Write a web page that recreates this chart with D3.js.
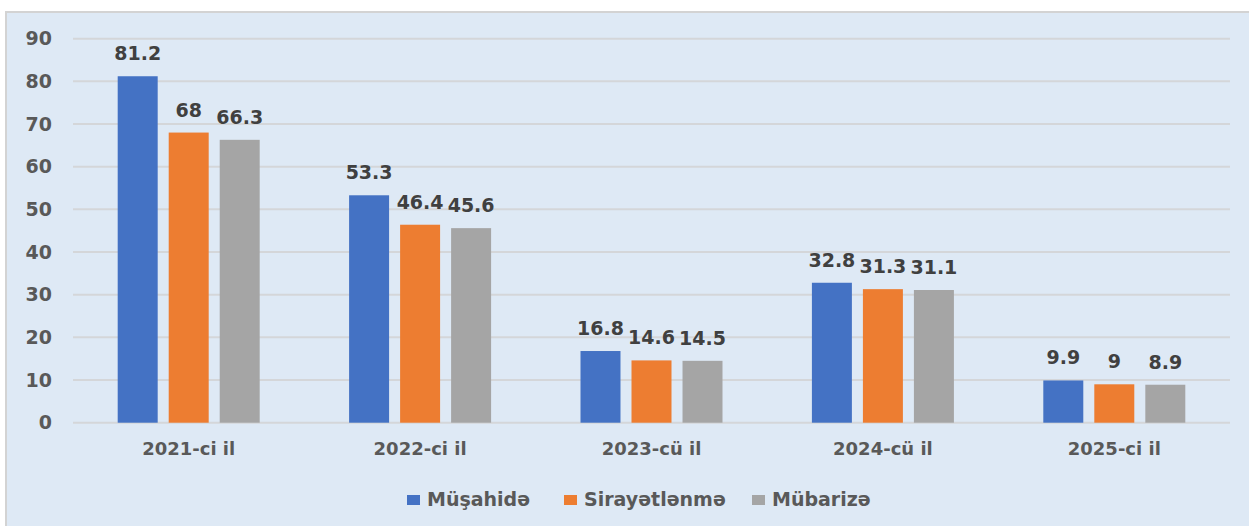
<!DOCTYPE html>
<html>
<head>
<meta charset="utf-8">
<script src="https://cdn.jsdelivr.net/npm/d3@7"></script>
<style>
  body { margin: 0; background: #fff; }
  text { font-family: "DejaVu Sans", sans-serif; font-weight: bold; }
</style>
</head>
<body>
<svg id="chart" width="1249" height="526"></svg>
<script>
// data
var years = ["2021-ci il", "2022-ci il", "2023-cü il", "2024-cü il", "2025-ci il"];
var seriesNames = ["Müşahidə", "Sirayətlənmə", "Mübarizə"];
var musahide = [81.2, 53.3, 16.8, 32.8, 9.9];
var sirayet = [68, 46.4, 14.6, 31.3, 9];
var mubarize = [66.3, 45.6, 14.5, 31.1, 8.9];
var yTicks = [0, 10, 20, 30, 40, 50, 60, 70, 80, 90];
var colors = ["#4472c4", "#ed7d31", "#a5a5a5"];

var allSeries = [musahide, sirayet, mubarize];

var svg = d3.select("#chart");

// frame
svg.append("rect")
  .attr("x", 6).attr("y", 12)
  .attr("width", 1260).attr("height", 530)
  .attr("fill", "#dee9f5")
  .attr("stroke", "#d3d3d3")
  .attr("stroke-width", 2);

var plotLeft = 73, plotRight = 1230, plotTop = 38.7, plotBottom = 422.7;

var x0 = d3.scaleBand().domain(years).range([plotLeft, plotRight]).padding(0);
var x1 = d3.scaleBand().domain(seriesNames).range([0, 142]).paddingInner(0.216).paddingOuter(0);
var y = d3.scaleLinear().domain([0, 90]).range([plotBottom, plotTop]);

// gridlines
svg.append("g").selectAll("line")
  .data(yTicks)
  .join("line")
  .attr("x1", plotLeft).attr("x2", plotRight)
  .attr("y1", function(d){ return y(d); })
  .attr("y2", function(d){ return y(d); })
  .attr("stroke", "#d4d6d9")
  .attr("stroke-width", 2);

// y axis
var yAxis = svg.append("g")
  .attr("transform", "translate(" + 52 + ",0)")
  .call(d3.axisLeft(y).tickValues(yTicks).tickSize(0).tickPadding(0));
yAxis.select(".domain").remove();
yAxis.selectAll("text")
  .attr("font-size", 19)
  .attr("fill", "#595959")
  .attr("font-family", "DejaVu Sans")
  .attr("font-weight", "bold");

// x axis labels
var xAxis = svg.append("g")
  .attr("transform", "translate(0," + plotBottom + ")")
  .call(d3.axisBottom(x0).tickSize(0).tickPadding(20));
xAxis.select(".domain").remove();
xAxis.selectAll("text")
  .attr("font-size", 18)
  .attr("fill", "#595959")
  .attr("font-family", "DejaVu Sans")
  .attr("font-weight", "bold");

// bars
seriesNames.forEach(function(name, si){
  var g = svg.append("g").attr("data-series", name);
  var offset = function(i){ return x0(years[i]) + x0.bandwidth() / 2 - 71 + x1(name); };

  g.selectAll("rect")
    .data(allSeries[si])
    .join("rect")
    .attr("x", function(d, i){ return offset(i); })
    .attr("y", function(d){ return y(d); })
    .attr("width", x1.bandwidth())
    .attr("height", function(d){ return y(0) - y(d); })
    .attr("fill", colors[si]);

  g.selectAll("text")
    .data(allSeries[si])
    .join("text")
    .attr("x", function(d, i){ return offset(i) + x1.bandwidth() / 2; })
    .attr("y", function(d){ return y(d) - 16; })
    .attr("text-anchor", "middle")
    .attr("font-size", 19)
    .attr("fill", "#404040")
    .text(function(d){ return d; });
});

// legend
var legendX = [407, 564, 752];
var legend = svg.append("g").selectAll("g")
  .data(seriesNames)
  .join("g")
  .attr("transform", function(d, i){ return "translate(" + legendX[i] + ",495)"; });
legend.append("rect")
  .attr("width", 13).attr("height", 10)
  .attr("fill", function(d, i){ return colors[i]; });
legend.append("text")
  .attr("x", 20).attr("y", 10.5)
  .attr("font-size", 19)
  .attr("fill", "#595959")
  .text(function(d){ return d; });
</script>
</body>
</html>
